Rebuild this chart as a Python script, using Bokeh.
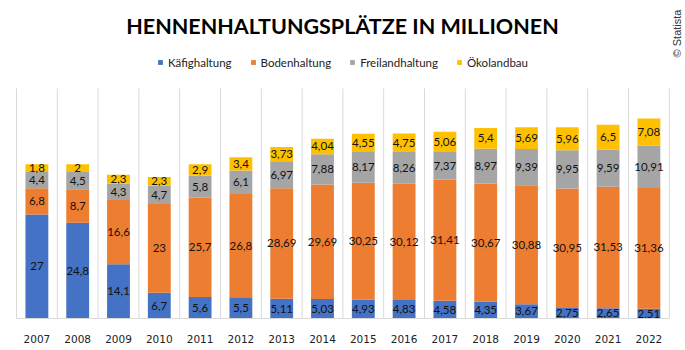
from bokeh.plotting import figure
from bokeh.models import ColumnDataSource, Range1d, FixedTicker, Legend, LegendItem
from bokeh.core.properties import value
from bokeh.embed import file_html
from bokeh.resources import INLINE
import numpy as np

years = ["2007", "2008", "2009", "2010", "2011", "2012", "2013", "2014",
         "2015", "2016", "2017", "2018", "2019", "2020", "2021", "2022"]
kaefig = [27, 24.8, 14.1, 6.7, 5.6, 5.5, 5.11, 5.03, 4.93, 4.83, 4.58, 4.35, 3.67, 2.75, 2.65, 2.51]
boden = [6.8, 8.7, 16.6, 23, 25.7, 26.8, 28.69, 29.69, 30.25, 30.12, 31.41, 30.67, 30.88, 30.95, 31.53, 31.36]
freiland = [4.4, 4.5, 4.3, 4.7, 5.8, 6.1, 6.97, 7.88, 8.17, 8.26, 7.37, 8.97, 9.39, 9.95, 9.59, 10.91]
oeko = [1.8, 2, 2.3, 2.3, 2.9, 3.4, 3.73, 4.04, 4.55, 4.75, 5.06, 5.4, 5.69, 5.96, 6.5, 7.08]
series = ["Käfighaltung", "Bodenhaltung", "Freilandhaltung", "Ökolandbau"]
colors = ["#4472C4", "#ED7D31", "#A5A5A5", "#FFC000"]
title_text = "HENNENHALTUNGSPLÄTZE IN MILLIONEN"
credit_text = "© Statista"

W, H = 685, 350
n = len(years)
cat_px = 40.8            # pixel width of one category
plot_left_px = 16        # left edge of the bar area
axis_bottom_px = 318     # baseline
unit_px = 3.856          # pixels per million
grid_top_px = 88

xs = [i + 0.5 for i in range(n)]
data = {"x": xs, "Käfighaltung": kaefig, "Bodenhaltung": boden,
        "Freilandhaltung": freiland, "Ökolandbau": oeko}
src = ColumnDataSource(data)

x0 = -plot_left_px / cat_px
x1 = x0 + W / cat_px
ytop = axis_bottom_px / unit_px

p = figure(width=W, height=H, output_backend="svg", toolbar_location=None,
           x_range=Range1d(x0, x1), y_range=Range1d(0, ytop),
           min_border_left=0, min_border_right=0, min_border_top=0,
           min_border_bottom=H - axis_bottom_px)
p.outline_line_color = None
p.background_fill_color = "white"
p.border_fill_color = "white"

# vertical separators between categories (chart gridlines)
grid_top = (axis_bottom_px - grid_top_px) / unit_px
p.segment(x0=list(range(n + 1)), y0=[0] * (n + 1), x1=list(range(n + 1)), y1=[grid_top] * (n + 1),
          line_color="#D9D9D9", line_width=1)

renderers = p.vbar_stack(series, x="x", width=0.56, source=src, color=colors, line_color=None)

# data labels
vals = np.array([kaefig, boden, freiland, oeko], dtype=float)
tops = np.cumsum(vals, axis=0)
bots = tops - vals
lx, ly, lt = [], [], []
for s in range(4):
    for i in range(n):
        lx.append(xs[i])
        ly.append((tops[s, i] + bots[s, i]) / 2)
        lt.append(f"{vals[s, i]:g}".replace(".", ","))
p.text(x=lx, y=ly, text=lt, text_align="center", text_baseline="middle",
       text_font=value("Lato"), text_font_size="11.5px", text_color="#111111")

# axes
p.yaxis.visible = False
p.ygrid.visible = False
p.xgrid.visible = False
p.xaxis.bounds = (0, n)
p.xaxis.ticker = FixedTicker(ticks=xs)
p.xaxis.major_label_overrides = {x: y for x, y in zip(xs, years)}
p.xaxis.major_tick_line_color = None
p.xaxis.minor_tick_line_color = None
p.xaxis.axis_line_color = "#D9D9D9"
p.xaxis.major_label_text_font = "DejaVu Sans"
p.xaxis.major_label_text_font_size = "10.5px"
p.xaxis.major_label_text_color = "#222222"
p.xaxis.major_label_standoff = 10

# title (as text in the canvas)
p.text(x=[x0 + 342 / cat_px], y=[(axis_bottom_px - 25) / unit_px], text=[title_text],
       text_align="center", text_baseline="middle", text_font=value("Lato"),
       text_font_style="bold", text_font_size="21.5px", text_color="#000000")

# credit, rotated
p.text(x=[x0 + 676 / cat_px], y=[(axis_bottom_px - 33) / unit_px], text=[credit_text],
       angle=np.pi / 2, text_align="center", text_baseline="middle",
       text_font=value("Liberation Sans"), text_font_size="11px", text_color="#333333")

legend = Legend(items=[LegendItem(label=s, renderers=[r]) for s, r in zip(series, renderers)],
                orientation="horizontal", location=(157, axis_bottom_px - 61 - 8),
                glyph_width=6, glyph_height=6, label_height=14, label_text_font="Lato",
                label_text_font_size="11.5px", label_text_color="#222222",
                spacing=18, label_standoff=5, padding=2, margin=0,
                border_line_color=None, background_fill_alpha=0)
p.add_layout(legend)

open("out.html", "w").write(file_html(p, INLINE))
